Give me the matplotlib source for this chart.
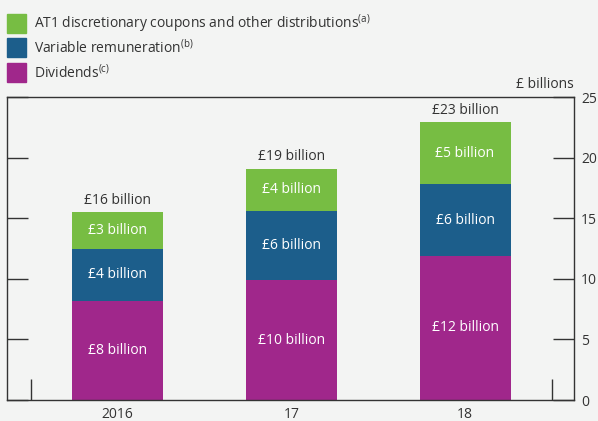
import matplotlib.pyplot as plt
from matplotlib.patches import Rectangle

# Datos (GBP billions)
years = ['2016', '17', '18']
dividends = [8.2, 9.9, 11.9]
variable_rem = [4.3, 5.7, 5.9]
at1 = [3.0, 3.5, 5.1]
div_labels = ['£8 billion', '£10 billion', '£12 billion']
var_labels = ['£4 billion', '£6 billion', '£6 billion']
at1_labels = ['£3 billion', '£4 billion', '£5 billion']
total_labels = ['£16 billion', '£19 billion', '£23 billion']
legend_labels = [r'AT1 discretionary coupons and other distributions$^{\mathregular{(a)}}$',
                 r'Variable remuneration$^{\mathregular{(b)}}$',
                 r'Dividends$^{\mathregular{(c)}}$']

c_green = '#77bd43'
c_blue = '#1c5e8b'
c_purple = '#a0278b'
bg = '#f3f4f3'
txt = '#333333'

plt.rcParams['font.family'] = ['Open Sans', 'DejaVu Sans']

W, H = 598, 421
fig = plt.figure(figsize=(W / 100, H / 100), dpi=100, facecolor=bg)
ax = fig.add_axes([7/W, 21/H, 567/W, 303/H])
ax.set_facecolor(bg)

x = list(range(len(years)))
w = 0.524
ax.bar(x, dividends, w, color=c_purple)
ax.bar(x, variable_rem, w, bottom=dividends, color=c_blue)
bottom3 = [a + b for a, b in zip(dividends, variable_rem)]
ax.bar(x, at1, w, bottom=bottom3, color=c_green)

fs = 10
for i in x:
    ax.text(i, dividends[i] / 2, div_labels[i], ha='center', va='center',
            color='white', fontsize=fs)
    ax.text(i, dividends[i] + variable_rem[i] / 2, var_labels[i], ha='center',
            va='center', color='white', fontsize=fs)
    ax.text(i, bottom3[i] + at1[i] / 2, at1_labels[i], ha='center',
            va='center', color='white', fontsize=fs)
    ax.text(i, bottom3[i] + at1[i] + 0.35, total_labels[i], ha='center',
            va='bottom', color=txt, fontsize=fs)

ax.set_xlim(-0.636, 2.627)
ax.set_ylim(0, 25)

for s in ax.spines.values():
    s.set_color('#333333')
    s.set_linewidth(1.0)

# eje y a la derecha con etiquetas, marcas hacia dentro en ambos lados
ax.set_yticks([0, 5, 10, 15, 20, 25])
ax.tick_params(axis='y', direction='in', length=15, width=1, color='#333333',
               left=True, right=True, labelleft=False, labelright=True,
               labelsize=fs, labelcolor=txt, pad=5)
ax.set_xticks(x)
ax.set_xticklabels(years)
ax.tick_params(axis='x', length=0, labelsize=fs, labelcolor=txt, pad=5)
ax.set_xticks([-0.5, 2.5], minor=True)
ax.tick_params(axis='x', which='minor', direction='in', length=15, width=1,
               color='#333333')
ax.tick_params(axis='y', which='minor', length=0)

ax.text(1.0, 1.015, '£ billions', transform=ax.transAxes, ha='right',
        va='bottom', color=txt, fontsize=fs)

# leyenda manual
leg_colors = [c_green, c_blue, c_purple]
leg_y = [14, 38, 63]
for c, yy, lab in zip(leg_colors, leg_y, legend_labels):
    fig.patches.append(Rectangle((7/W, 1 - (yy + 19)/H), 19/W, 19/H,
                                 transform=fig.transFigure, color=c))
    fig.text(34/W, 1 - (yy + 10)/H, lab, ha='left', va='center',
             color=txt, fontsize=fs)

fig.savefig('out.png', dpi=100, facecolor=bg)
